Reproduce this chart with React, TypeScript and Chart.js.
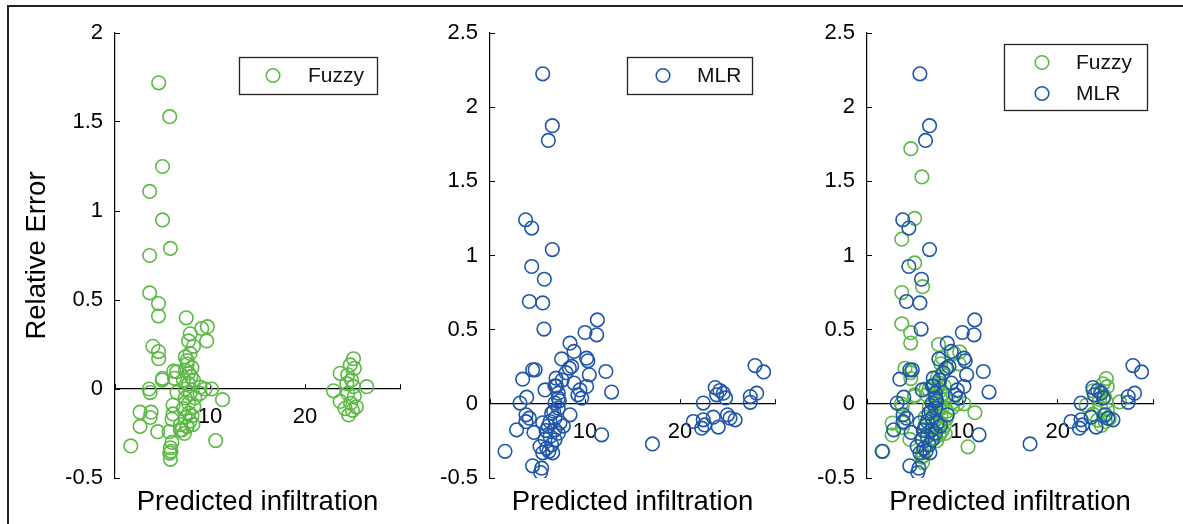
import React, { useEffect, useRef } from 'react';
import { Chart, registerables } from 'chart.js';

Chart.register(...registerables);

// ---- Data ----
const fuzzyX = [
  4.6, 5.76, 5.0, 3.65, 5.0, 5.83, 3.65, 3.65, 4.58, 4.58,
  3.99, 4.58, 4.6, 5.0, 3.6, 3.7, 2.64, 3.8, 3.7, 2.64,
  4.5, 1.67, 6.0, 5.83, 5.76, 5.83, 5.9, 6.18, 6.26, 6.53,
  6.11, 6.11, 6.0, 6.88, 7.57, 7.5, 7.92, 7.74, 8.26, 9.13,
  9.72, 9.65, 7.4, 7.6, 7.4, 7.75, 7.2, 7.75, 7.4, 7.9,
  7.4, 7.75, 7.2, 7.75, 7.4, 7.9, 7.6, 8.26, 8.96, 9.48,
  10.17, 8.96, 11.32, 10.6, 7.6, 8.1, 7.9, 8.3, 8.1, 7.3,
  8.0, 8.4, 7.05, 6.9, 8.2, 5.7, 4.97, 6.5,
  25.1, 24.76, 25.2, 23.7, 24.5, 24.9, 24.4, 25.1, 23.0, 26.5,
  24.5, 25.2, 23.7, 24.8, 25.4, 24.2, 25.0, 24.6,
];
const fuzzyY = [
  1.72, 1.53, 1.25, 1.11, 0.95, 0.79, 0.75, 0.54, 0.48, 0.41,
  0.24, 0.21, 0.17, 0.06, 0.0, -0.02, -0.13, -0.13, -0.16, -0.21,
  -0.24, -0.32, -0.3, -0.33, -0.36, -0.395, -0.35, 0.1, 0.06, -0.02,
  -0.09, -0.14, -0.17, -0.23, -0.21, 0.4, 0.31, 0.27, 0.24, 0.34,
  0.35, 0.27, 0.18, 0.14, 0.105, 0.09, 0.05, 0.03, 0.0, -0.025,
  -0.05, -0.08, -0.11, -0.135, -0.16, -0.18, -0.21, 0.05, 0.01, 0.0,
  0.0, -0.025, -0.06, -0.29, 0.16, 0.12, 0.2, -0.1, -0.15, -0.25,
  0.07, -0.05, -0.23, -0.2, -0.2, -0.24, 0.05, 0.097,
  0.17, 0.135, 0.116, 0.088, 0.08, 0.05, 0.03, 0.013, -0.01, 0.013,
  -0.025, -0.04, -0.07, -0.08, -0.1, -0.11, -0.12, -0.146,
];
const mlrX = [
  5.55, 6.56, 6.14, 3.75, 4.39, 6.56, 4.39, 5.72, 4.14, 5.55,
  5.68, 11.3, 10.0, 11.23, 8.42, 8.84, 7.54, 10.17, 10.3, 8.6,
  4.49, 4.75, 12.2, 10.45, 6.95, 3.44, 8.84, 10.17, 5.79, 12.8,
  9.47, 9.26, 9.65, 3.86, 3.16, 7.3, 8.42, 3.79, 4.14, 3.79,
  2.8, 4.63, 1.58, 4.49, 5.44, 5.33, 5.26, 11.75, 17.1,
  7.19, 7.19, 6.84, 7.19, 6.49, 6.84, 6.32, 7.37, 6.14, 6.84,
  7.19, 6.32, 5.79, 6.84, 6.49, 5.97, 6.2, 6.6, 5.55, 5.55,
  7.72, 7.0, 7.6, 8.0, 6.7, 5.9, 8.35, 6.84,
  27.9, 28.8, 23.7, 24.56, 23.86, 28.07, 27.4, 27.4, 22.45, 25.26,
  25.8, 23.5, 22.45, 21.4, 22.6, 22.28, 24.03, 24.2, 24.8, 25.0,
];
const mlrY = [
  2.225, 1.875, 1.776, 1.241, 1.185, 1.04, 0.926, 0.84, 0.69, 0.68,
  0.504, 0.566, 0.481, 0.465, 0.409, 0.353, 0.303, 0.308, 0.29, 0.252,
  0.229, 0.229, 0.218, 0.196, 0.173, 0.166, 0.14, 0.117, 0.094, 0.079,
  0.094, 0.061, 0.038, 0.045, 0.005, 0.02, -0.074, -0.074, -0.097, -0.12,
  -0.175, -0.193, -0.32, -0.418, -0.434, -0.463, -0.288, -0.209, -0.27,
  0.072, 0.038, 0.005, -0.029, -0.063, -0.097, -0.119, -0.128, -0.15, -0.175,
  -0.198, -0.22, -0.238, -0.243, -0.276, -0.3, -0.32, -0.33, -0.33, -0.128,
  -0.15, 0.12, 0.16, 0.21, -0.05, -0.18, 0.24, 0.121,
  0.258, 0.215, 0.11, 0.072, 0.061, 0.072, 0.049, 0.01, 0.005, -0.097,
  -0.108, -0.09, -0.108, -0.119, -0.142, -0.164, -0.157, 0.09, 0.04, -0.074,
];

const seriesNames = ['Fuzzy', 'MLR'];
const xTickLabels = [10, 20];
const xRange = [0, 30];
const yRangeP1 = [-0.5, 2];
const yRangeP23 = [-0.5, 2.5];
const yTitle = 'Relative Error';
const xTitle = 'Predicted infiltration';

// ---- Styling / layout ----
const W = 1183;
const H = 524;
const FONT = '"Liberation Sans", Arial, Helvetica, sans-serif';
const COLORS: Record<string, string> = { Fuzzy: '#5cb946', MLR: '#1f56a8' };

const panels = [
  {
    series: ['Fuzzy'], yRange: yRangeP1, showYTitle: true, left: 115, right: 400,
    legend: { x: 239, y: 57, w: 138, h: 37, mdx: 34, tdx: 69 },
  },
  {
    series: ['MLR'], yRange: yRangeP23, showYTitle: false, left: 490, right: 775,
    legend: { x: 627, y: 57, w: 125, h: 37, mdx: 36, tdx: 70 },
  },
  {
    series: ['Fuzzy', 'MLR'], yRange: yRangeP23, showYTitle: false, left: 867, right: 1153,
    legend: { x: 1004, y: 44, w: 143, h: 66, mdx: 38, tdx: 72 },
  },
];

const boxLegend = {
  id: 'boxLegend',
  afterDraw(chart: any, _args: any, opts: any) {
    const { ctx } = chart;
    const L = opts.geom;
    if (!L) return;
    ctx.save();
    ctx.strokeStyle = '#222';
    ctx.lineWidth = 1.3;
    ctx.strokeRect(L.x + 0.5, L.y + 0.5, L.w, L.h);
    chart.data.datasets.forEach((ds: any, i: number) => {
      const cy = L.y + 18.5 + 31 * i;
      ctx.beginPath();
      ctx.strokeStyle = ds.borderColor;
      ctx.lineWidth = 1.6;
      ctx.arc(L.x + L.mdx, cy, 6.8, 0, Math.PI * 2);
      ctx.stroke();
      ctx.fillStyle = '#111';
      ctx.font = `21px ${FONT}`;
      ctx.textBaseline = 'middle';
      ctx.textAlign = 'left';
      ctx.fillText(ds.label, L.x + L.tdx, cy + 1);
    });
    ctx.restore();
  },
};

function makeData(name: string) {
  const xs = name === 'Fuzzy' ? fuzzyX : mlrX;
  const ys = name === 'Fuzzy' ? fuzzyY : mlrY;
  return xs.map((x, i) => ({ x, y: ys[i] }));
}

function Panel({ cfg }: { cfg: any }) {
  const ref = useRef<HTMLCanvasElement>(null);
  useEffect(() => {
    if (!ref.current) return;
    const datasets = cfg.series.map((name: string) => ({
      label: name,
      data: makeData(name),
      borderColor: COLORS[name],
      backgroundColor: 'rgba(0,0,0,0)',
      pointRadius: 6.8,
      pointHoverRadius: 6.8,
      pointBorderWidth: 1.6,
      showLine: false,
      order: name === 'MLR' ? 0 : 1,
      xAxisID: 'x',
      yAxisID: 'y',
    }));
    const chart = new Chart(ref.current, {
      type: 'scatter',
      data: { datasets },
      plugins: [boxLegend],
      options: {
        animation: false,
        responsive: false,
        devicePixelRatio: 1,
        events: [],
        layout: { padding: { left: cfg.left - 115, right: W - cfg.right, top: 33, bottom: 0 } },
        plugins: {
          legend: { display: false },
          tooltip: { enabled: false },
          boxLegend: { geom: cfg.legend },
        } as any,
        scales: {
          x: {
            type: 'linear',
            min: xRange[0],
            max: xRange[1],
            position: { y: 0 } as any,
            afterFit: (s: any) => { s.height = 0; },
            ticks: {
              stepSize: 10,
              autoSkip: false,
              maxRotation: 0,
              color: '#000',
              padding: 20,
              font: { size: 22, family: FONT },
              callback: (v: any) => (xTickLabels.includes(Number(v)) ? String(v) : ''),
            },
            grid: { display: true, drawOnChartArea: false, drawTicks: true, tickLength: -5, color: '#000', lineWidth: 1 },
            border: { display: true, color: '#000', width: 1.2 },
          },
          xt: {
            type: 'linear',
            axis: 'x',
            position: 'bottom',
            min: 0,
            max: 1,
            afterFit: (s: any) => { s.height = H - 478; },
            ticks: { display: false },
            grid: { display: false },
            border: { display: false },
            title: { display: true, text: xTitle, color: '#000', font: { size: 27.5, family: FONT }, padding: { top: 0, bottom: 5 } },
          },
          y: {
            type: 'linear',
            position: 'left',
            min: cfg.yRange[0],
            max: cfg.yRange[1],
            afterFit: (s: any) => { s.width = 115; },
            ticks: {
              stepSize: 0.5,
              color: '#000',
              padding: 17,
              font: { size: 22, family: FONT },
              callback: (v: any) => String(Number(Number(v).toFixed(2))),
            },
            grid: { display: true, drawOnChartArea: false, drawTicks: true, tickLength: -5, color: '#000', lineWidth: 1 },
            border: { display: true, color: '#000', width: 1.2 },
            title: { display: cfg.showYTitle, text: yTitle, color: '#000', font: { size: 27.5, family: FONT }, padding: { top: 21, bottom: 0 } },
          },
        } as any,
      },
    } as any);
    return () => chart.destroy();
  }, []);
  return (
    <canvas
      ref={ref}
      width={W}
      height={H}
      style={{ position: 'absolute', left: 0, top: 0, width: W, height: H }}
    />
  );
}

export default function App() {
  return (
    <div style={{ position: 'absolute', left: 0, top: 0, width: W, height: H, overflow: 'hidden', background: '#fff' }}>
      <div
        style={{
          position: 'absolute', left: 7, top: 5, width: W + 20, height: H + 20,
          borderTop: '2px solid #222', borderLeft: '2px solid #222',
        }}
      />
      {panels.map((p, i) => (
        <Panel key={i} cfg={p} />
      ))}
    </div>
  );
}
